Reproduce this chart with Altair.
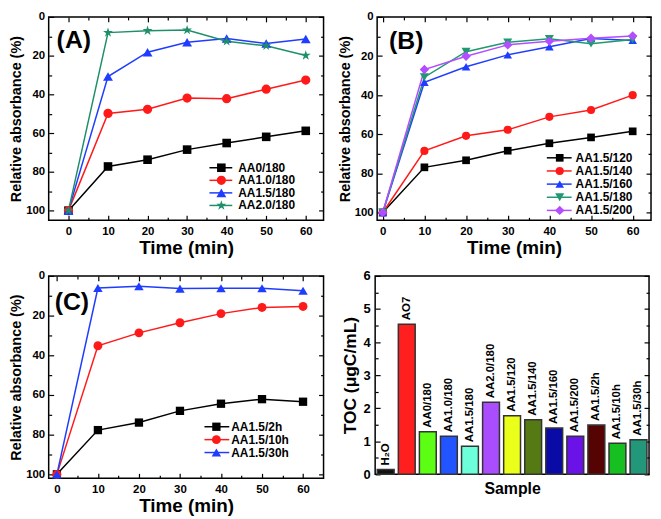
import altair as alt
import pandas as pd

FONT = "Liberation Sans"

times = [0, 10, 20, 30, 40, 50, 60]

# Panel A
a_series = ["AA0/180", "AA1.0/180", "AA1.5/180", "AA2.0/180"]
a_aa00 = [100, 77.2, 73.7, 68.5, 65.1, 61.9, 58.8]
a_aa10 = [100, 49.8, 47.7, 41.9, 42.2, 37.3, 32.6]
a_aa15 = [100, 30.8, 18.2, 13.1, 11.1, 13.7, 11.4]
a_aa20 = [100, 8.1, 7.1, 6.8, 12.6, 14.9, 19.9]

# Panel B
b_series = ["AA1.5/120", "AA1.5/140", "AA1.5/160", "AA1.5/180", "AA1.5/200"]
b_120 = [100, 76.9, 73.3, 68.4, 64.6, 61.6, 58.5]
b_140 = [100, 68.5, 60.8, 57.7, 51.1, 47.6, 40.0]
b_160 = [100, 33.4, 25.5, 19.4, 15.3, 11.0, 12.0]
b_180 = [100, 30.8, 17.8, 13.0, 11.2, 13.7, 11.5]
b_200 = [100, 26.9, 20.1, 14.3, 12.4, 10.9, 9.7]

# Panel C
c_series = ["AA1.5/2h", "AA1.5/10h", "AA1.5/30h"]
c_2h = [100, 77.7, 73.9, 68.0, 64.4, 62.1, 63.4]
c_10h = [100, 35.2, 28.7, 23.6, 19.0, 15.9, 15.4]
c_30h = [100, 6.1, 5.2, 6.4, 6.2, 6.2, 7.5]

# Panel D
d_samples = ["H\u2082O", "AO7", "AA0/180", "AA1.0/180", "AA1.5/180", "AA2.0/180",
             "AA1.5/120", "AA1.5/140", "AA1.5/160", "AA1.5/200", "AA1.5/2h",
             "AA1.5/10h", "AA1.5/30h"]
d_toc = [0.15, 4.54, 1.29, 1.15, 0.85, 2.18, 1.77, 1.65, 1.40, 1.15, 1.49, 0.94, 1.05]
d_colors = ["#111111", "#ff1f1f", "#5cff14", "#2255ff", "#6dffd9", "#a94dff",
            "#eaff1a", "#557a14", "#0a0aa6", "#6a12e8", "#560303", "#16c020", "#22977a"]

STAR = ("M0,-1L0.2245,-0.309L0.9511,-0.309L0.3633,0.118L0.5878,0.809L0,0.382"
        "L-0.5878,0.809L-0.3633,0.118L-0.9511,-0.309L-0.2245,-0.309Z")


def long_df(series, arrays):
    rows = []
    for s, arr in zip(series, arrays):
        for t, v in zip(times, arr):
            rows.append({"time": t, "value": v, "series": s})
    return pd.DataFrame(rows)


def tick_axis(orient, vals, size):
    return alt.Axis(orient=orient, values=vals, labels=False, domain=False, title=None,
                    grid=False, ticks=True, tickSize=size, offset=-size, minExtent=0,
                    tickColor="black", tickWidth=1.2)


def tick_layers(df, xf, yf, xs, ys, xmaj, xmin, ymaj, ymin):
    layers = []
    specs = [("top", "right", xmaj, ymaj, 5), ("bottom", "left", xmaj, ymaj, 5),
             ("top", "right", xmin, ymin, 3), ("bottom", "left", xmin, ymin, 3)]
    for xo, yo, xv, yv, sz in specs:
        enc = {}
        if xv is not None:
            enc["x"] = alt.X(xf, scale=xs, axis=tick_axis(xo, xv, sz))
        else:
            enc["x"] = alt.X(xf, scale=xs, axis=None)
        enc["y"] = alt.Y(yf, scale=ys, axis=tick_axis(yo, yv, sz))
        layers.append(alt.Chart(df).mark_point(opacity=0).encode(**enc))
    return layers


def line_panel(df, series, colors, shapes, sizes, xdom, ydom, width, height,
               leg_right, leg_bottom, label, labxy):
    xs = alt.Scale(domain=xdom, nice=False, zero=False)
    ys = alt.Scale(domain=ydom, reverse=True, nice=False, zero=False)
    cs = alt.Scale(domain=series, range=colors)
    ss = alt.Scale(domain=series, range=shapes)
    zs = alt.Scale(domain=series, range=sizes)
    lines = alt.Chart(df).mark_line(strokeWidth=1.5).encode(
        x=alt.X("time:Q", scale=xs,
                axis=alt.Axis(orient="bottom", values=times, title="Time (min)", ticks=False,
                              domain=False, labelPadding=5, titlePadding=2, grid=False,
                              labelFontSize=11.5, titleFontSize=19)),
        y=alt.Y("value:Q", scale=ys,
                axis=alt.Axis(orient="left", values=[0, 20, 40, 60, 80, 100],
                              title="Relative absorbance (%)",
                              ticks=False, domain=False, labelPadding=4, titlePadding=2,
                              grid=False, labelFontSize=11.5, titleFontSize=14.5)),
        color=alt.Color("series:N", scale=cs, legend=None),
        order="time:Q",
    )
    points = alt.Chart(df).mark_point(filled=True, opacity=1).encode(
        x=alt.X("time:Q", scale=xs, axis=None),
        y=alt.Y("value:Q", scale=ys, axis=None),
        color=alt.Color("series:N", scale=cs, legend=None),
        shape=alt.Shape("series:N", scale=ss, legend=None),
        size=alt.Size("series:N", scale=zs, legend=None),
    )
    # legend drawn as marks: line segment + marker + label
    ldf = pd.DataFrame({"series": series})
    ly = alt.Scale(type="point", domain=series, padding=0,
                   range=[height - leg_bottom[0], height - leg_bottom[1]])
    lrule = alt.Chart(ldf).mark_rule(strokeWidth=1.5).encode(
        x=alt.value(width - leg_right[0]), x2=alt.value(width - leg_right[1]),
        y=alt.Y("series:N", scale=ly, axis=None),
        color=alt.Color("series:N", scale=cs, legend=None),
    )
    lpt = alt.Chart(ldf).mark_point(filled=True, opacity=1).encode(
        x=alt.value(width - leg_right[2]),
        y=alt.Y("series:N", scale=ly, axis=None),
        color=alt.Color("series:N", scale=cs, legend=None),
        shape=alt.Shape("series:N", scale=ss, legend=None),
        size=alt.Size("series:N", scale=zs, legend=None),
    )
    ltxt = alt.Chart(ldf).mark_text(font=FONT, fontSize=12, fontWeight="bold", align="left",
                                     baseline="middle", color="black").encode(
        x=alt.value(width - leg_right[3]),
        y=alt.Y("series:N", scale=ly, axis=None),
        text="series:N",
    )
    lab = alt.Chart(pd.DataFrame({"l": [label]})).mark_text(
        font=FONT, fontSize=25, fontWeight="bold", align="left", baseline="top",
        color="black").encode(x=alt.value(labxy[0]), y=alt.value(labxy[1]), text="l:N")
    ticks = tick_layers(df, "time:Q", "value:Q", xs, ys,
                        times, [5, 15, 25, 35, 45, 55],
                        [0, 20, 40, 60, 80, 100], [10, 30, 50, 70, 90])
    return alt.layer(lines, *ticks, points, lrule, lpt, ltxt, lab).resolve_axis(
        x="independent", y="independent").resolve_scale(y="independent").properties(
        width=width, height=height)


dfa = long_df(a_series, [a_aa00, a_aa10, a_aa15, a_aa20])
dfb = long_df(b_series, [b_120, b_140, b_160, b_180, b_200])
dfc = long_df(c_series, [c_2h, c_10h, c_30h])

pa = line_panel(dfa, a_series, ["#000000", "#ff1a1a", "#1f3dff", "#1f8f6a"],
                ["square", "circle", "triangle-up", STAR], [75, 110, 120, 150],
                [-5, 64.5], [0, 105], 277, 205, (115, 92, 103, 86), (53, 15), "(A)", (8, 11))
pb = line_panel(dfb, b_series, ["#000000", "#ff1a1a", "#1f3dff", "#1f9a70", "#b34dff"],
                ["square", "circle", "triangle-up", "triangle-down", "diamond"],
                [60, 90, 90, 90, 100],
                [-1.35, 64.4], [0, 104], 276, 205, (105, 80, 92, 76), (63, 10), "(B)", (12, 12))
pc = line_panel(dfc, c_series, ["#000000", "#ff1a1a", "#1f3dff"],
                ["square", "circle", "triangle-up"], [70, 90, 100],
                [-2, 65], [0, 102], 277, 204, (120, 95, 108, 93), (52, 26), "(C)", (6, 14))

# Panel D
dfd = pd.DataFrame({"sample": d_samples, "toc": d_toc})
xd = alt.Scale(domain=d_samples, paddingInner=0.2, paddingOuter=0.1)
yd = alt.Scale(domain=[0, 6], nice=False, zero=True)
bars = alt.Chart(dfd).mark_bar(stroke="#333333", strokeWidth=1.5).encode(
    x=alt.X("sample:N", scale=xd, sort=d_samples,
            axis=alt.Axis(orient="bottom", title="Sample", labels=False, ticks=False,
                          domain=False, titlePadding=6, titleFontSize=16)),
    y=alt.Y("toc:Q", scale=yd,
            axis=alt.Axis(orient="left", values=[0, 1, 2, 3, 4, 5, 6], title="TOC (\u03bcgC/mL)",
                          ticks=False, domain=False, labelPadding=5, titlePadding=4,
                          grid=False, labelFontSize=13, titleFontSize=17.5)),
    color=alt.Color("sample:N", scale=alt.Scale(domain=d_samples, range=d_colors), legend=None),
)
texts = alt.Chart(dfd).mark_text(font=FONT, fontSize=11.5, fontWeight="bold", angle=270,
                                 align="left", baseline="middle", dx=4, color="black").encode(
    x=alt.X("sample:N", scale=xd, sort=d_samples, axis=None),
    y=alt.Y("toc:Q", scale=yd, axis=None),
    text="sample:N",
)
dticks = tick_layers(dfd, "sample:N", "toc:Q", xd, yd, None, None,
                     [0, 1, 2, 3, 4, 5, 6], [0.5, 1.5, 2.5, 3.5, 4.5, 5.5])
pd_ = alt.layer(bars, *dticks, texts).resolve_axis(
    x="independent", y="independent").properties(width=276, height=200)

row1 = alt.hconcat(pa, pb, spacing=11).resolve_scale(
    color="independent", shape="independent", size="independent")
row2 = alt.hconcat(pc, pd_, spacing=15).resolve_scale(
    color="independent", shape="independent", size="independent")

chart = alt.vconcat(row1, row2, spacing=10).resolve_scale(
    color="independent", shape="independent", size="independent").properties(
    padding=0, background="white"
).configure_view(stroke="black", strokeWidth=1.5).configure_axis(
    labelFont=FONT, titleFont=FONT, labelFontWeight="bold", titleFontWeight="bold",
    labelColor="black", titleColor="black")

chart.save("out.html", embed_options={"renderer": "svg", "actions": False})
